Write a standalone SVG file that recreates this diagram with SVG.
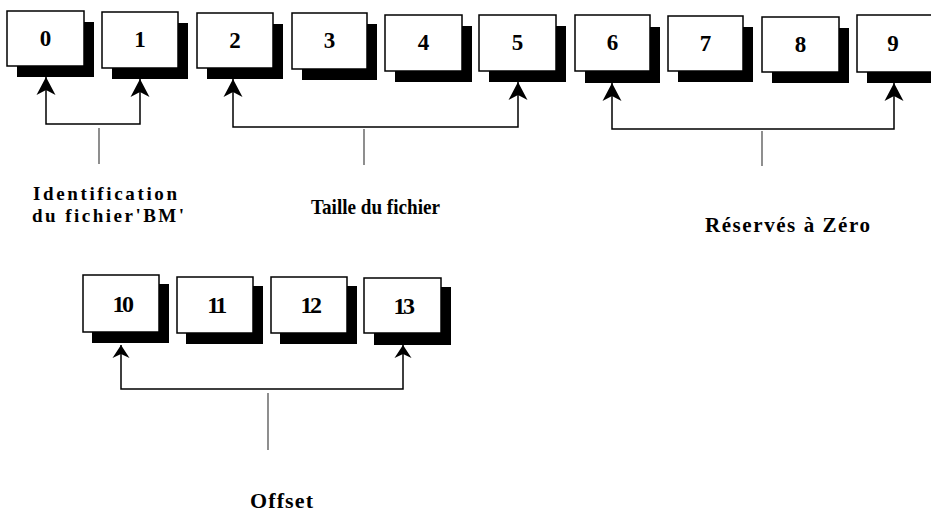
<svg xmlns="http://www.w3.org/2000/svg" width="931" height="513" viewBox="0 0 931 513">
  <style>
    .shadow { fill: #000; }
    .face { fill: #fff; stroke: #000; stroke-width: 1.5; }
    .num { font-family: "Liberation Serif", "Times New Roman", serif; font-weight: bold; font-size: 23px; text-anchor: middle; fill: #000; }
    .num2 { font-size: 24px; letter-spacing: -2.5px; }
    .label { font-family: "Liberation Serif", "Times New Roman", serif; font-weight: bold; font-size: 21px; fill: #000; }
    .link { fill: none; stroke: #000; stroke-width: 1.5; }
    .stem { fill: none; stroke: #444; stroke-width: 1.2; }
  </style>
  <defs>
    <marker id="head" markerUnits="userSpaceOnUse" markerWidth="20" markerHeight="22" viewBox="0 -11 20 22" refX="18" refY="0" orient="auto-start-reverse">
      <path d="M0,-9.5 L18,0 L0,9.5 L5,0 Z" fill="#000"/>
    </marker>
    <marker id="headSmall" markerUnits="userSpaceOnUse" markerWidth="16" markerHeight="20" viewBox="0 -10 16 20" refX="13" refY="0" orient="auto-start-reverse">
      <path d="M0,-8.5 L13,0 L0,8.5 L4,0 Z" fill="#000"/>
    </marker>
  </defs>

  <!-- bytes 0..9 -->
  <g id="byte0"><rect class="shadow" x="17" y="22" width="77" height="55"/><rect class="face" x="7" y="11" width="77" height="55"/><text class="num" x="45.5" y="46">0</text></g>
  <g id="byte1"><rect class="shadow" x="112" y="23" width="76" height="56"/><rect class="face" x="102" y="12" width="76" height="56"/><text class="num" x="140" y="47">1</text></g>
  <g id="byte2"><rect class="shadow" x="207" y="24" width="76" height="55"/><rect class="face" x="197" y="13" width="76" height="55"/><text class="num" x="235" y="48">2</text></g>
  <g id="byte3"><rect class="shadow" x="302" y="24" width="75" height="56"/><rect class="face" x="292" y="13" width="75" height="56"/><text class="num" x="329.5" y="48">3</text></g>
  <g id="byte4"><rect class="shadow" x="395" y="26" width="77" height="56"/><rect class="face" x="385" y="15" width="77" height="56"/><text class="num" x="423.5" y="50">4</text></g>
  <g id="byte5"><rect class="shadow" x="489" y="26" width="77" height="56"/><rect class="face" x="479" y="15" width="77" height="56"/><text class="num" x="517.5" y="50">5</text></g>
  <g id="byte6"><rect class="shadow" x="585" y="27" width="75" height="56"/><rect class="face" x="575" y="15" width="75" height="56"/><text class="num" x="612.5" y="50">6</text></g>
  <g id="byte7"><rect class="shadow" x="678" y="27" width="75" height="55"/><rect class="face" x="668" y="16" width="75" height="55"/><text class="num" x="705.5" y="51">7</text></g>
  <g id="byte8"><rect class="shadow" x="772" y="28" width="77" height="55"/><rect class="face" x="762" y="17" width="77" height="55"/><text class="num" x="800.5" y="52">8</text></g>
  <g id="byte9"><rect class="shadow" x="867" y="26" width="77" height="57"/><rect class="face" x="857" y="15" width="77" height="57"/><text class="num" x="893" y="51">9</text></g>

  <!-- bytes 10..13 -->
  <g id="byte10"><rect class="shadow" x="92" y="284" width="77" height="59"/><rect class="face" x="83" y="275" width="76" height="57"/><text class="num num2" x="122" y="312">10</text></g>
  <g id="byte11"><rect class="shadow" x="186" y="286" width="77" height="58"/><rect class="face" x="177" y="277" width="76" height="56"/><text class="num num2" x="216" y="313">11</text></g>
  <g id="byte12"><rect class="shadow" x="280" y="286" width="77" height="58"/><rect class="face" x="271" y="277" width="76" height="56"/><text class="num num2" x="310" y="313">12</text></g>
  <g id="byte13"><rect class="shadow" x="374" y="287" width="77" height="58"/><rect class="face" x="364" y="278" width="77" height="55"/><text class="num num2" x="403" y="314">13</text></g>

  <!-- brackets and leader lines -->
  <g id="connectors">
    <path class="link" d="M46,77 V124 H140 V79" marker-start="url(#head)" marker-end="url(#head)"/>
    <path class="stem" d="M99,128 V164"/>
    <path class="link" d="M233,79 V127 H518 V82" marker-start="url(#head)" marker-end="url(#head)"/>
    <path class="stem" d="M364,129 V165"/>
    <path class="link" d="M612,83 V129 H894 V83" marker-start="url(#head)" marker-end="url(#head)"/>
    <path class="stem" d="M762,131 V166"/>
    <path class="link" d="M121,345 V389 H403 V345" marker-start="url(#headSmall)" marker-end="url(#headSmall)"/>
    <path class="stem" d="M268,393 V450"/>
  </g>

  <!-- field names -->
  <g id="labels">
    <text class="label" x="33" y="200" textLength="144" lengthAdjust="spacing" style="font-size:19px">Identification</text>
    <text class="label" x="32" y="222" textLength="152" lengthAdjust="spacing" style="font-size:19px">du fichier'BM'</text>
    <text class="label" x="311" y="214" textLength="129" lengthAdjust="spacingAndGlyphs">Taille du fichier</text>
    <text class="label" x="705" y="232" textLength="165" lengthAdjust="spacing">Réservés à Zéro</text>
    <text class="label" x="250" y="508" textLength="63" lengthAdjust="spacing" style="font-size:22px">Offset</text>
  </g>
</svg>
